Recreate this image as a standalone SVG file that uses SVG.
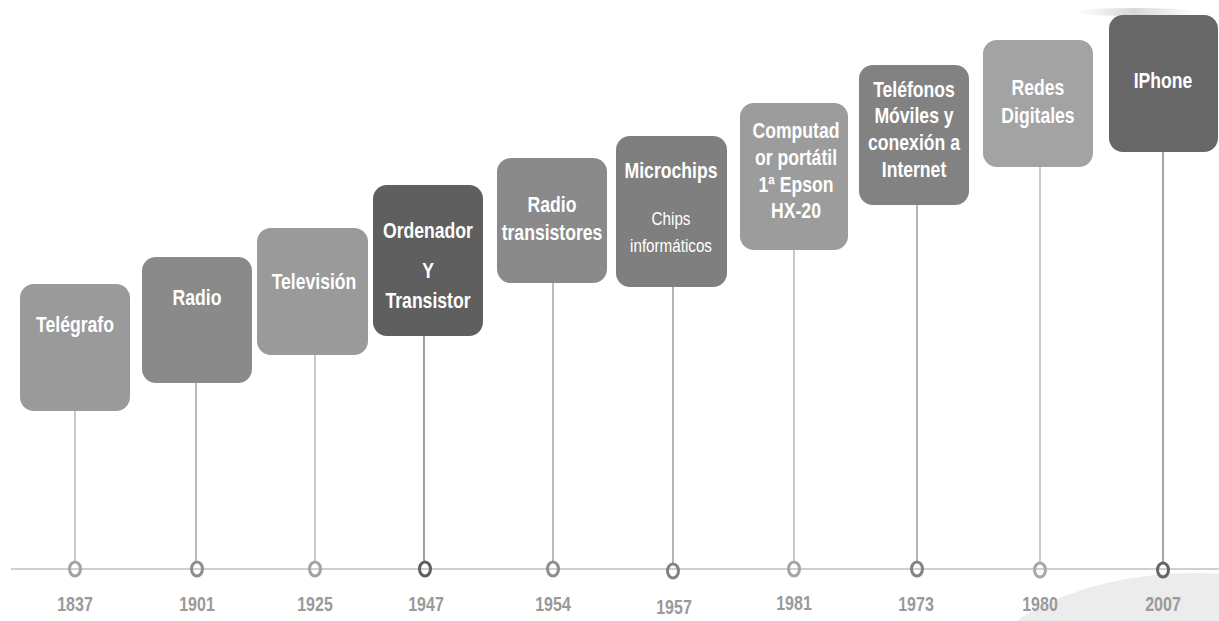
<svg xmlns="http://www.w3.org/2000/svg" width="1219" height="621" viewBox="0 0 1219 621">
<style>
.t{font-family:"Liberation Sans",Arial,sans-serif;font-weight:bold;font-size:22px;fill:#fff;text-anchor:middle}
.s{font-family:"Liberation Sans",Arial,sans-serif;font-size:19px;fill:#fff;text-anchor:middle}
.y{font-family:"Liberation Sans",Arial,sans-serif;font-weight:bold;font-size:20px;fill:#9a9a9a;text-anchor:middle}
.c{fill:none;stroke-width:3}
.v{stroke-width:1.2}
</style>
<defs>
<linearGradient id="sh" x1="0" y1="0" x2="1" y2="0">
<stop offset="0" stop-color="#fff"/>
<stop offset="0.5" stop-color="#d8d8d8"/>
<stop offset="1" stop-color="#fff"/>
</linearGradient>
</defs>
<rect width="1219" height="621" fill="#fff"/>
<ellipse cx="1195" cy="703" rx="230" ry="130" fill="#ececec"/>
<ellipse cx="1135" cy="12" rx="60" ry="4" fill="url(#sh)"/>
<line x1="11" y1="569" x2="1219" y2="569" stroke="#cfcfcf" stroke-width="2"/>
<g id="connectors">
<line class="v" x1="75" y1="411" x2="75" y2="562" stroke="#a5a5a5"/>
<line class="v" x1="196" y1="383" x2="196" y2="562" stroke="#8d8d8d"/>
<line class="v" x1="315" y1="355" x2="315" y2="562" stroke="#a5a5a5"/>
<line class="v" x1="424" y1="336" x2="424" y2="562" stroke="#606060"/>
<line class="v" x1="553" y1="283" x2="553" y2="562" stroke="#8d8d8d"/>
<line class="v" x1="673" y1="287" x2="673" y2="563" stroke="#838383"/>
<line class="v" x1="794" y1="250" x2="794" y2="562" stroke="#a5a5a5"/>
<line class="v" x1="917" y1="205" x2="917" y2="562" stroke="#838383"/>
<line class="v" x1="1040" y1="167" x2="1040" y2="562" stroke="#a8a8a8"/>
<line class="v" x1="1163" y1="152" x2="1163" y2="562" stroke="#6a6a6a"/>
</g>
<g id="n1837">
<rect x="20" y="284" width="110" height="127" rx="14" fill="#9a9a9a"/>
<text class="t" transform="translate(75 332) scale(.8 1)">Telégrafo</text>
<ellipse class="c" cx="75" cy="569" rx="5.5" ry="7" stroke="#a3a3a3"/>
<text class="y" transform="translate(75 611) scale(.8 1)">1837</text>
</g>
<g id="n1901">
<rect x="142" y="257" width="110" height="126" rx="14" fill="#8a8a8a"/>
<text class="t" transform="translate(197 305) scale(.8 1)">Radio</text>
<ellipse class="c" cx="197" cy="569" rx="5.5" ry="7" stroke="#8f8f8f"/>
<text class="y" transform="translate(197 611) scale(.8 1)">1901</text>
</g>
<g id="n1925">
<rect x="257" y="228" width="111" height="127" rx="14" fill="#9a9a9a"/>
<text class="t" transform="translate(314 289) scale(.8 1)">Televisión</text>
<ellipse class="c" cx="315" cy="569" rx="5.5" ry="7" stroke="#a3a3a3"/>
<text class="y" transform="translate(315 611) scale(.8 1)">1925</text>
</g>
<g id="n1947">
<rect x="373" y="185" width="110" height="151" rx="14" fill="#5f5f5f"/>
<text class="t" transform="translate(428 238) scale(.8 1)">Ordenador</text>
<text class="t" transform="translate(428 278) scale(.8 1)">Y</text>
<text class="t" transform="translate(428 308) scale(.8 1)">Transistor</text>
<ellipse class="c" cx="425" cy="569" rx="5.5" ry="7" stroke="#5f5f5f"/>
<text class="y" transform="translate(426 611) scale(.8 1)">1947</text>
</g>
<g id="n1954">
<rect x="497" y="158" width="110" height="125" rx="14" fill="#8a8a8a"/>
<text class="t" transform="translate(552 212) scale(.8 1)">Radio</text>
<text class="t" transform="translate(552 240) scale(.8 1)">transistores</text>
<ellipse class="c" cx="553" cy="569" rx="5.5" ry="7" stroke="#8f8f8f"/>
<text class="y" transform="translate(553 611) scale(.8 1)">1954</text>
</g>
<g id="n1957">
<rect x="616" y="136" width="111" height="151" rx="14" fill="#7f7f7f"/>
<text class="t" transform="translate(671 178) scale(.8 1)">Microchips</text>
<text class="s" transform="translate(671 225) scale(.8 1)">Chips</text>
<text class="s" transform="translate(671 252) scale(.8 1)">informáticos</text>
<ellipse class="c" cx="673" cy="571" rx="5.5" ry="7" stroke="#838383"/>
<text class="y" transform="translate(674 614) scale(.8 1)">1957</text>
</g>
<g id="n1981">
<rect x="740" y="103" width="108" height="147" rx="14" fill="#9c9c9c"/>
<text class="t" transform="translate(796 138) scale(.8 1)">Computad</text>
<text class="t" transform="translate(796 165) scale(.8 1)">or portátil</text>
<text class="t" transform="translate(796 192) scale(.8 1)">1ª Epson</text>
<text class="t" transform="translate(796 218) scale(.8 1)">HX-20</text>
<ellipse class="c" cx="794" cy="569" rx="5.5" ry="7" stroke="#a5a5a5"/>
<text class="y" transform="translate(794 610) scale(.8 1)">1981</text>
</g>
<g id="n1973">
<rect x="859" y="65" width="110" height="140" rx="14" fill="#828282"/>
<text class="t" transform="translate(914 97) scale(.8 1)">Teléfonos</text>
<text class="t" transform="translate(914 123) scale(.8 1)">Móviles y</text>
<text class="t" transform="translate(914 150) scale(.8 1)">conexión a</text>
<text class="t" transform="translate(914 177) scale(.8 1)">Internet</text>
<ellipse class="c" cx="917" cy="569" rx="5.5" ry="7" stroke="#838383"/>
<text class="y" transform="translate(916 611) scale(.8 1)">1973</text>
</g>
<g id="n1980">
<rect x="983" y="40" width="110" height="127" rx="14" fill="#a3a3a3"/>
<text class="t" transform="translate(1038 95) scale(.8 1)">Redes</text>
<text class="t" transform="translate(1038 123) scale(.8 1)">Digitales</text>
<ellipse class="c" cx="1040" cy="570" rx="5.5" ry="7" stroke="#a8a8a8"/>
<text class="y" transform="translate(1040 611) scale(.8 1)">1980</text>
</g>
<g id="n2007">
<rect x="1109" y="15" width="109" height="137" rx="14" fill="#676767"/>
<text class="t" transform="translate(1163 88) scale(.8 1)">IPhone</text>
<ellipse class="c" cx="1163" cy="570" rx="5.5" ry="7" stroke="#666"/>
<text class="y" transform="translate(1163 611) scale(.8 1)">2007</text>
</g>
</svg>
